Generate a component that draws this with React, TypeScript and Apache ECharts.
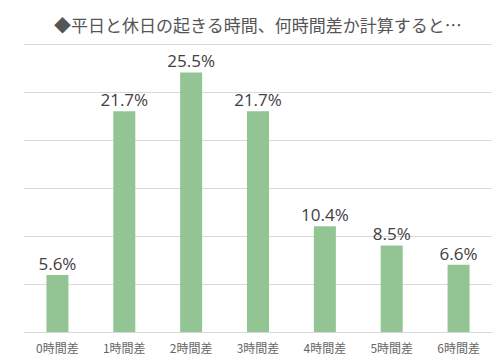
import React, { useEffect, useRef } from "react";
import * as echarts from "echarts";

const titleText = "◆平日と休日の起きる時間、何時間差か計算すると…";
const categories = ["0時間差", "1時間差", "2時間差", "3時間差", "4時間差", "5時間差", "6時間差"];
const values = [5.6, 21.7, 25.5, 21.7, 10.4, 8.5, 6.6];
const valueMax = 28.3;
const gridLevels = 6;

export default function App() {
  const ref = useRef<HTMLDivElement>(null);
  useEffect(() => {
    if (!ref.current) return;
    const chart = echarts.init(ref.current, null, { renderer: "svg" });
    chart.setOption({
      animation: false,
      backgroundColor: "#ffffff",
      title: {
        text: titleText,
        left: 49,
        top: 11,
        textStyle: {
          fontSize: 17,
          fontWeight: "normal",
          color: "#555555",
          fontFamily: "'Noto Sans CJK JP', sans-serif",
        },
      },
      grid: { left: 24, right: 8, top: 44, bottom: 28 },
      xAxis: {
        type: "category",
        data: categories,
        axisLine: { show: true, lineStyle: { color: "#d9d9d9", width: 1 } },
        axisTick: { show: false },
        axisLabel: {
          fontSize: 12,
          color: "#666666",
          margin: 9,
          fontFamily: "'Noto Sans CJK JP', sans-serif",
        },
      },
      yAxis: [
        { type: "value", min: 0, max: valueMax, show: false },
        {
          type: "value",
          min: 0,
          max: gridLevels,
          interval: 1,
          axisLabel: { show: false },
          axisLine: { show: false },
          axisTick: { show: false },
          splitLine: { show: true, lineStyle: { color: "#d9d9d9", width: 1 } },
        },
      ],
      series: [
        {
          type: "bar",
          yAxisIndex: 0,
          data: values,
          barWidth: 22,
          itemStyle: { color: "#93c594" },
          label: {
            show: true,
            position: "top",
            distance: 3,
            formatter: "{c}%",
            fontSize: 17,
            color: "#404040",
            fontFamily: "'Open Sans', sans-serif",
          },
        },
      ],
    });
    return () => chart.dispose();
  }, []);
  return (
    <div
      ref={ref}
      style={{ position: "fixed", left: 0, top: 0, width: 500, height: 360 }}
    />
  );
}
